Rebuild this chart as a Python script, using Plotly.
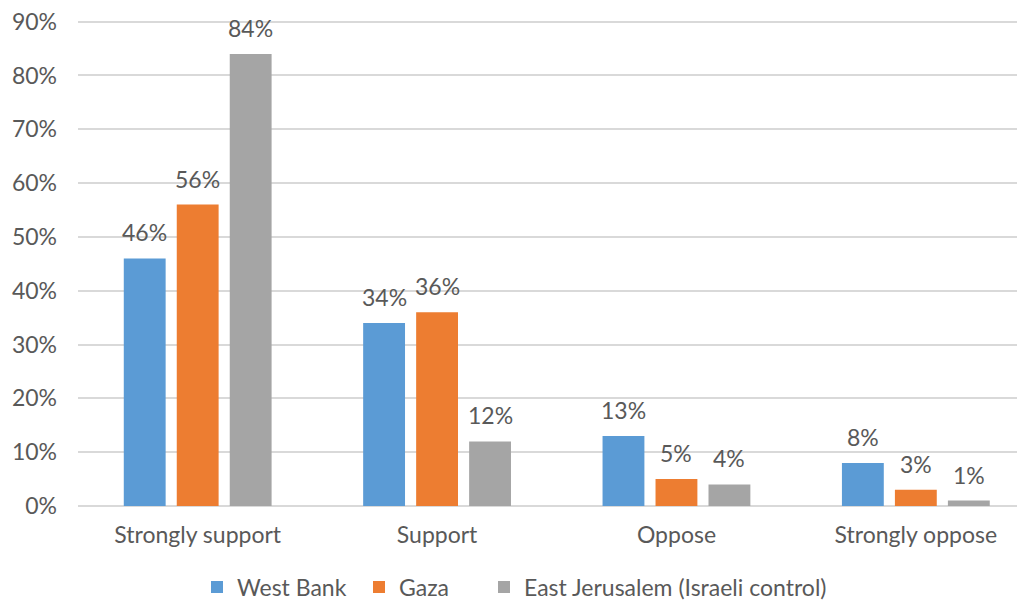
import plotly.graph_objects as go

categories = ["Strongly support", "Support", "Oppose", "Strongly oppose"]
west_bank = [46, 34, 13, 8]
gaza = [56, 36, 5, 3]
east_jerusalem = [84, 12, 4, 1]
series_names = ["West Bank", "Gaza", "East Jerusalem (Israeli control)"]
y_ticks = [0, 10, 20, 30, 40, 50, 60, 70, 80, 90]
y_tick_labels = [f"{v}%" for v in y_ticks]

colors = ["#5B9BD5", "#ED7D31", "#A5A5A5"]
FONT = "Lato, 'Open Sans', sans-serif"
TXT = "#595959"
FS = 23
W, H = 1017, 596  # page body has an 8px margin

fig = go.Figure()
all_series = [west_bank, gaza, east_jerusalem]
legend_ids = ["legend", "legend2", "legend3"]
for name, vals, col, lg in zip(series_names, all_series, colors, legend_ids):
    fig.add_trace(go.Bar(x=categories, y=vals, name=name, marker_color=col,
                         marker_line_width=0, hoverinfo="skip", legend=lg,
                         showlegend=True))

shifts = [-53, 0, 53]
for vals, sh in zip(all_series, shifts):
    for c, v in zip(categories, vals):
        fig.add_annotation(x=c, y=v, text=f"{v}%", showarrow=False, xshift=sh,
                           yshift=26, yanchor="middle",
                           font=dict(family=FONT, size=FS, color=TXT))

legend_text_x = [237, 399, 524]  # px where each legend label starts
def leg(xpx):
    return dict(orientation="h", xref="container", yref="container",
                x=(xpx - 8 - 40) / W, xanchor="left", y=(604 - 587) / H, yanchor="middle",
                font=dict(family=FONT, size=FS, color=TXT), itemclick=False,
                itemwidth=30, bgcolor="rgba(0,0,0,0)", visible=True)

fig.update_layout(
    width=W, height=H,
    showlegend=True,
    margin=dict(l=70, r=0, t=12, b=98),
    paper_bgcolor="white", plot_bgcolor="white",
    barmode="group", bargap=0.336, bargroupgap=0.21,
    font=dict(family=FONT, size=FS, color=TXT),
    legend=leg(legend_text_x[0]),
    legend2=leg(legend_text_x[1]),
    legend3=leg(legend_text_x[2]),
    xaxis=dict(range=[-0.5, 3.456], showgrid=False, showline=False, ticks="",
               automargin=False, ticklabelstandoff=13, ticklabeloverflow="allow",
               tickfont=dict(family=FONT, size=FS, color=TXT)),
    yaxis=dict(range=[0, 90.3], tickvals=y_ticks, ticktext=y_tick_labels, showgrid=True,
               gridcolor="#D9D9D9", gridwidth=1.5, zeroline=True, zerolinecolor="#D9D9D9",
               zerolinewidth=1.5, showline=False, ticks="", ticklabelstandoff=20,
               automargin=False, ticklabeloverflow="allow",
               tickfont=dict(family=FONT, size=FS, color=TXT)),
)

fig.write_html("out.html")
